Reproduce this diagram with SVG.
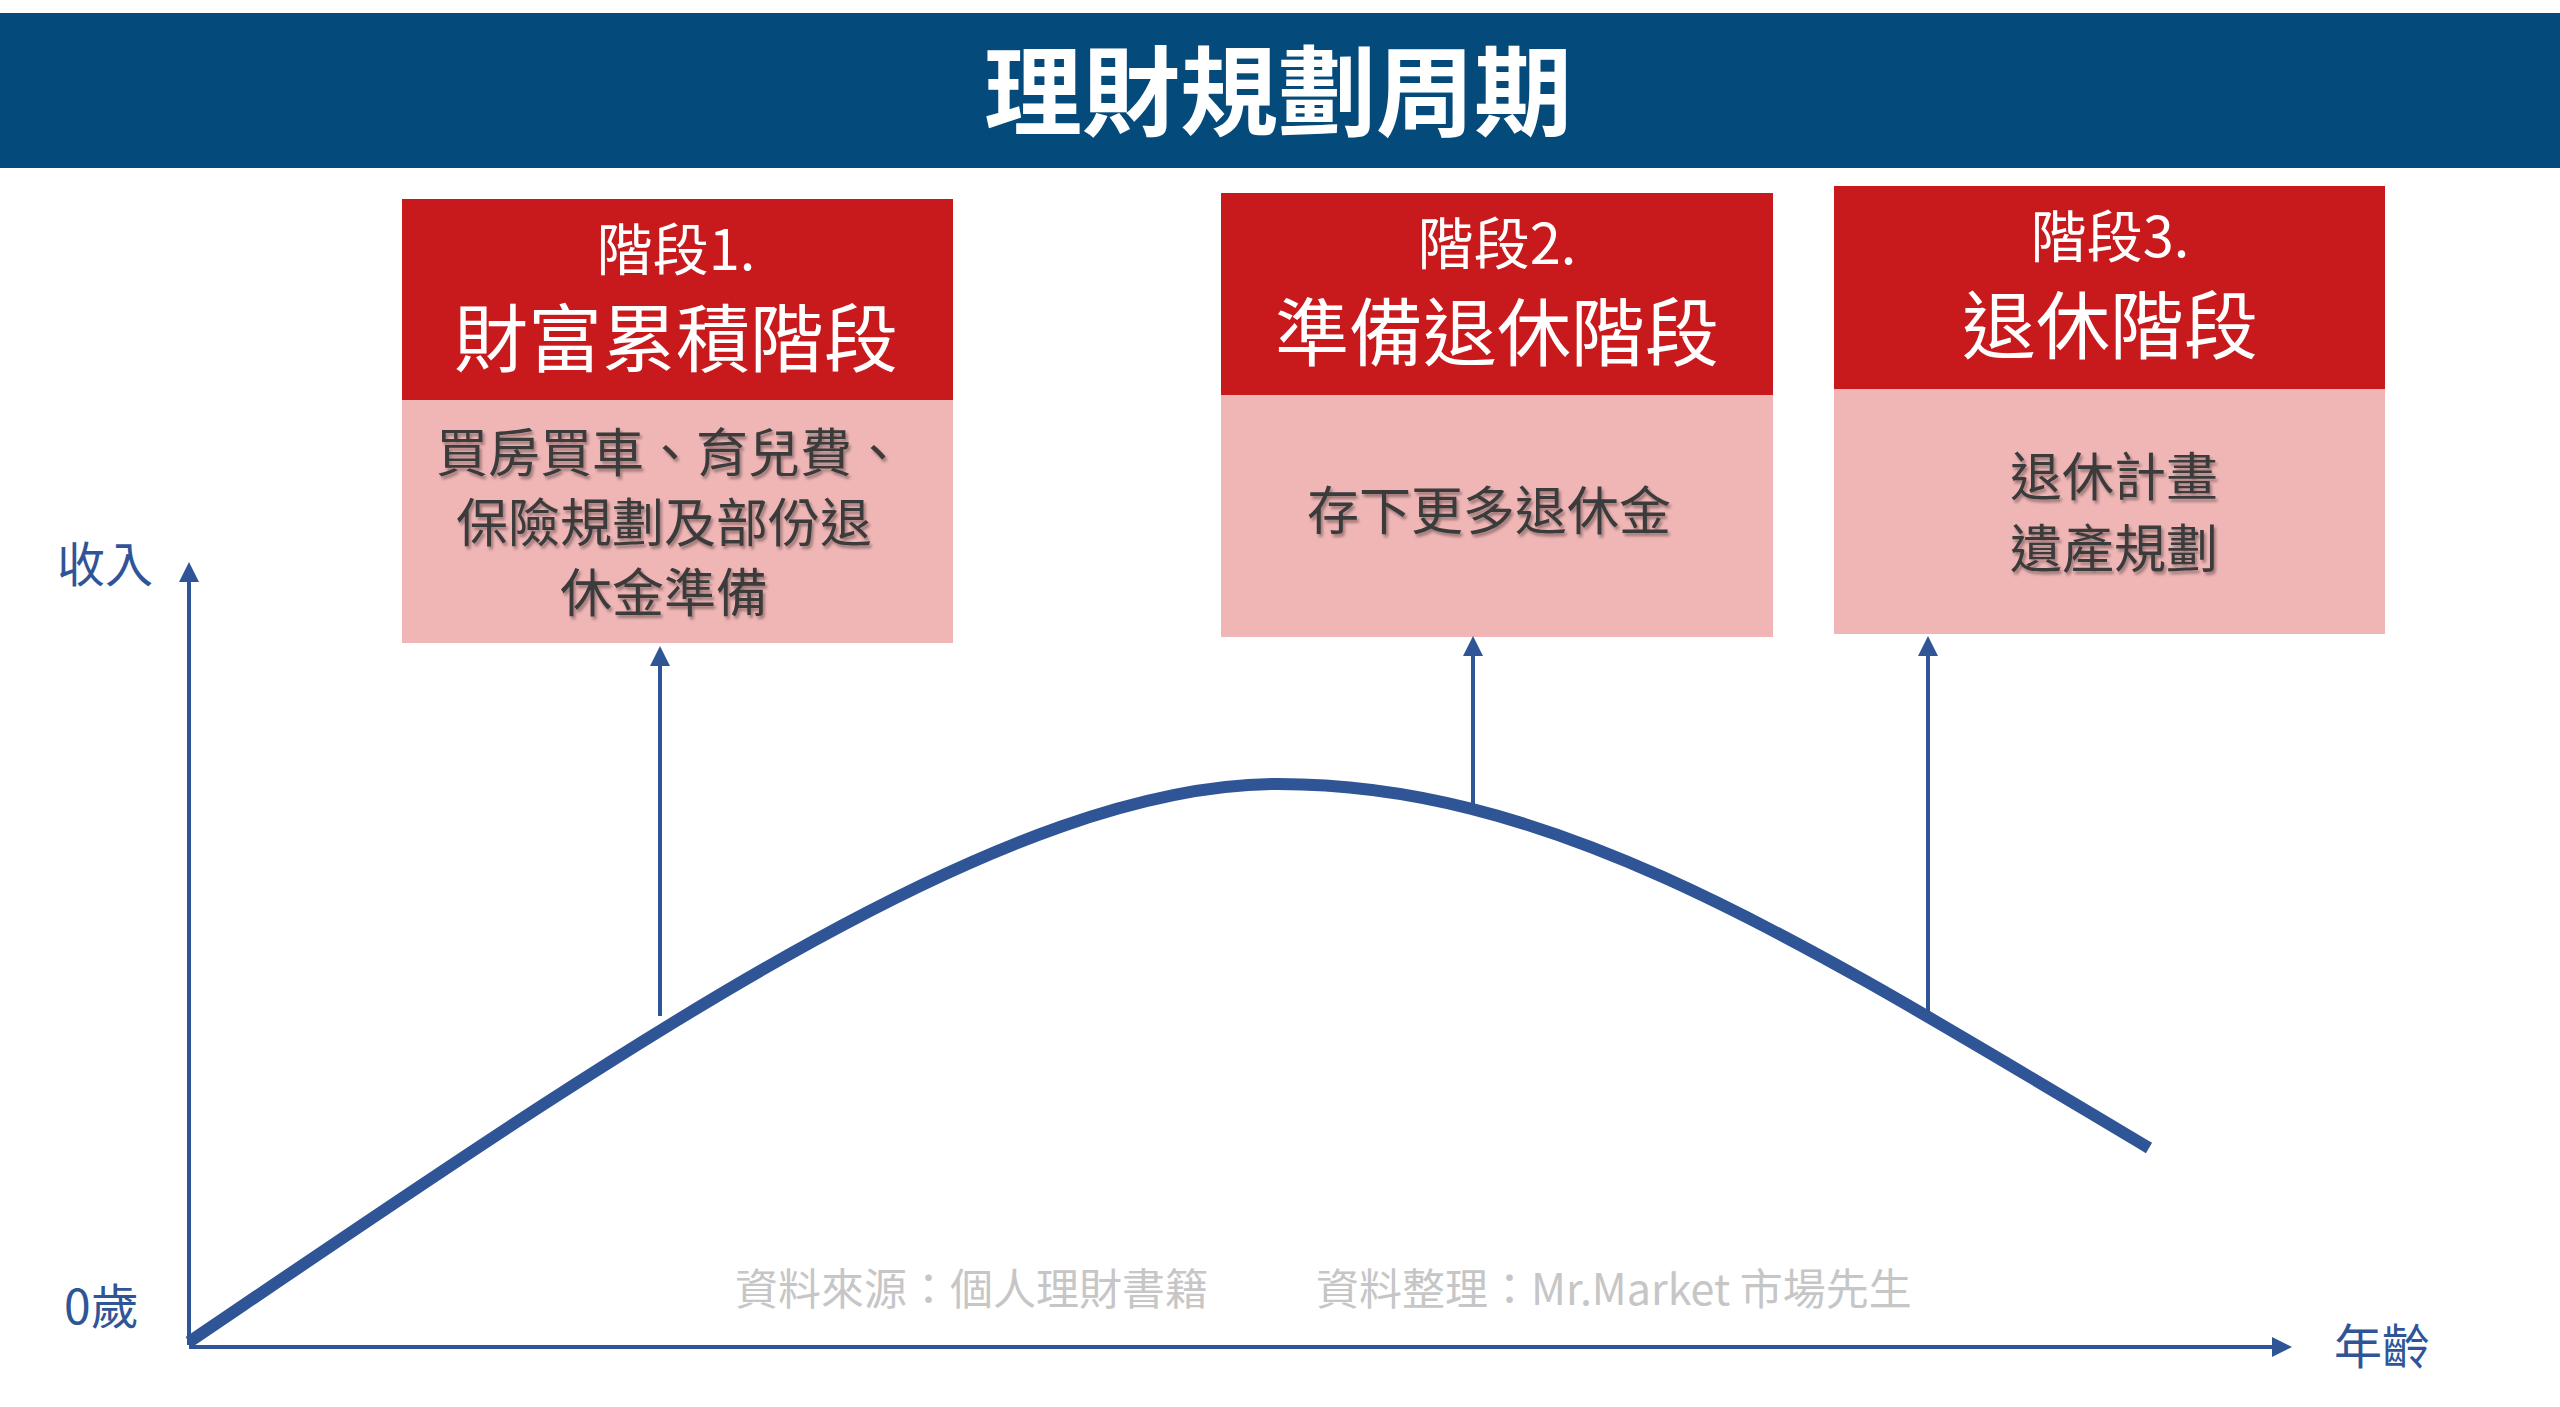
<svg xmlns="http://www.w3.org/2000/svg" width="2560" height="1407" viewBox="0 0 2560 1407">
<defs>
<style>
.cjk{font-family:"Noto Sans CJK TC","Noto Sans CJK SC",sans-serif}
.w{fill:#fff;text-anchor:middle}
.d{fill:#3a3a3a;text-anchor:middle;font-size:52px}
.ax{fill:#2f5597;font-size:48px}
.src{fill:#c6c6c6;font-size:43px}
.red{fill:#c8191c}
.pink{fill:#f0b6b6}
.arr{stroke:#2f5597;stroke-width:4;fill:none}
</style>
<marker id="ah" viewBox="0 0 10 10" refX="8" refY="5" markerWidth="5" markerHeight="5" orient="auto"><path d="M0,0 L10,5 L0,10 z" fill="#2f5597"/></marker>
<filter id="sh"><feDropShadow dx="2" dy="3" stdDeviation="1.5" flood-color="#000" flood-opacity="0.35"/></filter>
</defs>
<rect width="2560" height="1407" fill="#fff"/>
<g id="header">
<rect x="0" y="13" width="2560" height="155" fill="#044a7a"/>
<text x="1278" y="128" class="cjk w" font-size="98" font-weight="bold">理財規劃周期</text>
</g>
<g id="stage1">
<rect x="402" y="199" width="551" height="201" class="red"/>
<rect x="402" y="400" width="551" height="243" class="pink"/>
<text x="676" y="270" class="cjk w" font-size="56">階段1.</text>
<text x="676" y="366" class="cjk w" font-size="74">財富累積階段</text>
<g class="cjk d" filter="url(#sh)">
<text x="670" y="472">買房買車、育兒費、</text>
<text x="664" y="542">保險規劃及部份退</text>
<text x="664" y="612">休金準備</text>
</g>
</g>
<g id="stage2">
<rect x="1221" y="193" width="552" height="202" class="red"/>
<rect x="1221" y="395" width="552" height="242" class="pink"/>
<text x="1497" y="264" class="cjk w" font-size="56">階段2.</text>
<text x="1497" y="360" class="cjk w" font-size="74">準備退休階段</text>
<text x="1489" y="530" class="cjk d" filter="url(#sh)">存下更多退休金</text>
</g>
<g id="stage3">
<rect x="1834" y="186" width="551" height="203" class="red"/>
<rect x="1834" y="389" width="551" height="245" class="pink"/>
<text x="2110" y="257" class="cjk w" font-size="56">階段3.</text>
<text x="2110" y="353" class="cjk w" font-size="74">退休階段</text>
<g class="cjk d" filter="url(#sh)">
<text x="2114" y="496">退休計畫</text>
<text x="2114" y="568">遺產規劃</text>
</g>
</g>
<g id="connectors">
<line x1="189" y1="1345" x2="189" y2="566" class="arr" marker-end="url(#ah)"/>
<line x1="189" y1="1347" x2="2288" y2="1347" class="arr" stroke-width="5" marker-end="url(#ah)"/>
<path d="M189,1342 C620,1050 1000,784 1278,784 C1556,784 1800,940 2149,1148" stroke="#2f5597" stroke-width="12" fill="none"/>
<line x1="660" y1="1016" x2="660" y2="650" class="arr" marker-end="url(#ah)"/>
<line x1="1473" y1="807" x2="1473" y2="640" class="arr" marker-end="url(#ah)"/>
<line x1="1928" y1="1019" x2="1928" y2="640" class="arr" marker-end="url(#ah)"/>
</g>
<g id="labels">
<text x="57" y="582" class="cjk ax">收入</text>
<text x="64" y="1324" class="cjk ax">0歲</text>
<text x="2334" y="1364" class="cjk ax">年齡</text>
<text x="735" y="1305" class="cjk src">資料來源：個人理財書籍</text>
<text x="1316" y="1305" class="cjk src">資料整理：Mr.Market 市場先生</text>
</g>
</svg>
